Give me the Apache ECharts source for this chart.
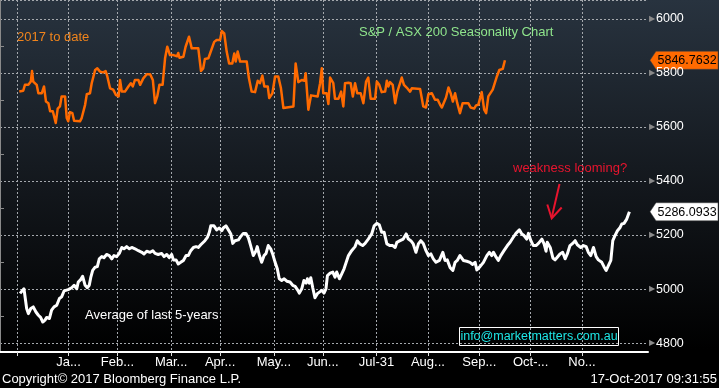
<!DOCTYPE html>
<html><head><meta charset="utf-8">
<script src="https://cdn.jsdelivr.net/npm/echarts@6/dist/echarts.min.js"></script>
<style>html,body{margin:0;padding:0;background:#000;}#c{width:719px;height:388px;}</style>
</head><body><div id="c"></div>
<script>
// Trading-day position (day 0 = left edge of the plot) and value
const asxDay = [7.9,9.5,10.2,11.6,12.6,13.1,13.6,14.3,15.0,15.7,17.1,18.0,18.8,19.8,20.5,21.6,22.8,23.6,24.5,25.2,26.6,27.3,27.9,28.6,29.6,30.3,32.7,33.4,34.8,35.5,36.8,37.5,38.9,39.8,40.9,42.2,43.2,43.9,45.0,46.3,47.4,48.5,49.1,49.8,51.1,52.5,53.5,54.3,55.2,56.6,57.3,58.6,60.0,61.4,62.5,63.4,64.3,65.2,66.5,67.5,68.4,69.5,70.9,71.6,72.4,72.9,73.4,75.0,75.9,77.3,78.4,81.1,82.2,83.1,83.8,85.2,85.9,86.6,87.6,88.6,90.0,90.7,91.7,92.7,93.7,95.0,95.8,96.4,97.2,98.2,100.9,101.8,102.9,104.3,105.4,106.3,107.3,108.1,109.5,110.1,111.4,112.5,113.8,114.9,115.9,120.0,120.9,122.0,123.4,124.5,125.0,126.1,127.2,129.9,130.9,131.6,132.2,133.6,134.3,135.0,136.3,137.0,138.4,139.5,140.4,141.1,142.5,143.4,144.3,145.2,146.1,147.5,148.6,149.7,150.6,151.6,153.4,154.1,155.1,156.1,157.5,158.2,158.8,159.5,160.6,161.6,162.5,163.6,164.3,165.2,166.3,167.7,168.4,171.8,173.1,174.2,175.2,176.6,177.9,179.0,180.0,180.7,182.4,183.4,184.3,185.2,186.1,187.0,188.1,189.2,191.5,192.5,193.9,194.7,195.6,197.0,198.0,198.8,199.7,200.4,201.5,202.0,203.2,204.2,205.6,206.5];
const asxValue = [5731,5734,5756,5756,5768,5807,5768,5771,5756,5725,5725,5750,5694,5688,5658,5658,5615,5668,5676,5713,5713,5633,5621,5655,5651,5623,5621,5633,5682,5721,5725,5762,5811,5817,5805,5802,5807,5787,5743,5738,5719,5713,5774,5731,5731,5750,5762,5750,5774,5774,5756,5780,5795,5795,5774,5688,5713,5756,5756,5854,5897,5866,5866,5872,5862,5874,5856,5860,5897,5934,5891,5891,5807,5817,5852,5854,5872,5872,5915,5922,5922,5955,5946,5879,5835,5835,5872,5842,5879,5842,5842,5780,5731,5729,5771,5762,5790,5750,5750,5707,5725,5787,5787,5743,5670,5676,5835,5766,5774,5771,5799,5664,5717,5713,5762,5817,5725,5725,5685,5783,5762,5704,5704,5731,5676,5762,5764,5762,5713,5762,5725,5725,5688,5768,5783,5704,5704,5768,5756,5729,5731,5771,5750,5766,5756,5688,5731,5762,5783,5756,5746,5731,5743,5741,5676,5672,5721,5725,5701,5701,5682,5672,5709,5746,5725,5694,5725,5688,5651,5688,5688,5672,5668,5680,5682,5729,5664,5651,5713,5709,5738,5738,5787,5811,5815,5846.7632];

const avgDay = [8.2,9.8,10.9,11.6,12.6,13.6,14.7,15.7,16.6,17.5,18.4,19.1,20.2,21.1,22.1,23.2,24.3,25.2,26.2,27.0,27.9,29.3,30.3,31.4,32.0,33.0,33.8,34.8,35.7,36.5,37.1,37.9,38.9,39.8,40.6,41.6,42.5,43.6,44.7,45.7,46.6,47.7,48.8,49.8,50.7,51.8,52.9,53.9,55.2,56.6,58.0,58.9,60.0,61.4,62.5,63.4,64.7,66.1,67.1,68.2,69.2,70.2,70.9,72.0,72.9,73.9,75.0,76.1,77.0,78.0,79.1,80.2,81.1,82.1,82.9,83.8,84.8,85.6,86.2,87.5,88.6,89.7,90.7,91.3,92.4,93.4,94.4,95.2,96.1,97.5,98.4,99.5,100.6,101.6,102.5,103.6,104.7,105.2,106.1,107.0,108.0,108.8,109.7,110.7,111.5,112.5,113.4,114.2,115.2,116.2,117.3,118.6,119.7,120.7,121.6,122.4,123.4,124.3,125.2,125.7,126.5,127.1,127.9,128.8,129.8,130.6,131.6,132.5,133.3,133.9,135.0,136.1,137.0,137.7,138.8,139.8,140.7,141.5,142.5,143.8,145.2,146.1,147.2,148.3,149.3,150.6,152.0,153.0,154.1,155.1,156.1,157.1,158.2,159.5,160.6,161.6,162.3,163.6,164.9,166.1,167.0,168.0,169.0,170.1,171.1,172.1,173.1,174.2,175.2,176.2,177.2,178.3,179.7,181.1,182.0,182.9,184.1,185.2,186.1,187.0,188.1,189.5,190.9,192.2,193.3,194.3,195.0,196.3,197.7,199.1,200.1,201.1,201.8,202.9,203.8,204.8,206.1,207.5,208.6,209.7,211.0,212.4,213.4,214.3,215.4,216.1,217.1,218.1,219.2,220.2,221.6,222.5,223.3,223.8,225.0,226.1,227.0,227.9,229.0,230.1,231.1,232.0,233.1,234.2,235.2,236.1,237.5,238.6,239.7,240.6,241.6,242.7,243.8,244.7,246.1,247.0,247.9,248.8,249.8,250.6,251.5,252.5,253.6,254.3,255.2,256.3,257.4];
const avgValue = [4984,5001,4928,4909,4928,4934,4915,4903,4895,4878,4885,4895,4891,4922,4934,4940,4965,4971,4993,4989,4998,5005,5014,5001,5026,5035,5047,5014,5005,5014,5042,5069,5081,5083,5112,5120,5116,5128,5124,5112,5124,5120,5132,5154,5149,5157,5149,5154,5149,5142,5136,5130,5140,5136,5142,5132,5128,5132,5120,5128,5116,5128,5108,5108,5093,5099,5106,5124,5124,5142,5154,5157,5154,5164,5161,5179,5191,5210,5234,5234,5219,5226,5216,5226,5234,5219,5204,5169,5179,5182,5194,5206,5206,5189,5161,5124,5142,5157,5124,5099,5124,5132,5161,5149,5130,5099,5075,5038,5032,5038,5029,5026,5014,5010,4998,4985,5001,5032,5022,5038,5022,5042,5005,4968,4983,4977,4995,4985,5001,5050,5059,5063,5044,5063,5038,5057,5075,5081,5124,5142,5157,5179,5167,5161,5169,5185,5204,5234,5243,5238,5210,5210,5167,5161,5161,5154,5173,5179,5185,5204,5185,5179,5167,5136,5167,5179,5169,5142,5124,5130,5112,5099,5106,5136,5106,5108,5079,5069,5099,5106,5124,5106,5103,5099,5091,5099,5071,5083,5099,5124,5136,5124,5136,5118,5106,5124,5142,5161,5173,5189,5206,5219,5204,5198,5185,5206,5179,5161,5161,5169,5185,5167,5140,5173,5154,5115,5108,5118,5130,5136,5112,5130,5161,5169,5179,5164,5154,5161,5157,5136,5124,5154,5120,5108,5099,5083,5069,5087,5106,5179,5198,5216,5228,5241,5243,5259,5286.0933];

const tickIndex = [7,28,48,70,90,112,132,154,175,196,217,238];
const tickLabel = ['', 'Ja...', 'Feb...', 'Mar...', 'Apr...', 'May...', 'Jun...', 'Jul-31', 'Aug...', 'Sep...', 'Oct-...', 'No...'];
const dayCount = 266;
const yMin = 4767, yMax = 6070;

const categories = Array.from({length: dayCount}, (_, i) => {
  const k = tickIndex.indexOf(i);
  return k >= 0 ? tickLabel[k] : '';
});
const isTick = (i) => tickIndex.indexOf(i) >= 0;
const zip = (a, b) => a.map((d, i) => [d, b[i]]);

const FONT = '"Liberation Sans", Arial, sans-serif';
const chart = echarts.init(document.getElementById('c'), null, {renderer: 'canvas'});
const grid = {left: 0, right: 71, top: -2, bottom: 36, containLabel: false};
const dash = {color: '#a4a8ad', type: [2, 2], width: 1};

chart.setOption({
  animation: false,
  backgroundColor: {type: 'linear', x: 0, y: 0, x2: 0, y2: 1, colorStops: [
    {offset: 0, color: '#28333f'}, {offset: 0.5, color: '#12161b'}, {offset: 0.9, color: '#000000'}, {offset: 1, color: '#000000'}]},
  textStyle: {fontFamily: FONT},
  grid: grid,
  xAxis: [{
    type: 'category', data: categories, boundaryGap: false,
    axisLine: {lineStyle: {color: '#ffffff', width: 2}},
    axisTick: {show: true, interval: (i) => isTick(i), length: 4, lineStyle: {color: '#dddddd'}},
    axisLabel: {interval: (i) => isTick(i), color: '#ffffff', fontSize: 13, margin: 4, fontFamily: FONT},
    splitLine: {show: true, interval: (i) => isTick(i), lineStyle: dash}
  }, {
    type: 'value', min: 0, max: dayCount - 1, show: false
  }],
  yAxis: {
    type: 'value', position: 'right', min: yMin, max: yMax, splitNumber: 6,
    axisLine: {show: true, lineStyle: {color: '#8a8a8a', width: 1}},
    axisTick: {show: false},
    minorTick: {show: true, splitNumber: 2, length: 4, lineStyle: {color: '#8a8a8a'}},
    axisLabel: {showMinLabel: false, showMaxLabel: false, margin: 1,
      formatter: (v) => '{t|\u25B6}{v|' + v + '}',
      rich: {t: {color: '#8a8a8a', fontSize: 8, padding: [0, 1, 0, 0]},
             v: {color: '#ffffff', fontSize: 12.5, fontFamily: FONT}}},
    splitLine: {show: true, lineStyle: dash}
  },
  series: [{
    type: 'line', xAxisIndex: 1, yAxisIndex: 0, data: zip(avgDay, avgValue),
    symbol: 'none', lineStyle: {color: '#ffffff', width: 3, join: 'round'}, z: 3
  }, {
    type: 'line', xAxisIndex: 1, yAxisIndex: 0, data: zip(asxDay, asxValue),
    symbol: 'none', lineStyle: {color: '#ff6a00', width: 2.5, join: 'round'}, z: 4
  }]
});

const lastAsx = asxValue[asxValue.length - 1];
const lastAvg = avgValue[avgValue.length - 1];
const yA = chart.convertToPixel({yAxisIndex: 0}, lastAsx);
const yB = chart.convertToPixel({yAxisIndex: 0}, lastAvg);

function tag(y, fill, text) {
  return {type: 'group', x: 650, y: y, z: 100, children: [
    {type: 'polygon', shape: {points: [[0, 0], [6, -9], [68, -9], [68, 9], [6, 9]]},
     style: {fill: fill, stroke: '#444', lineWidth: 0.5}},
    {type: 'text', x: 7.5, y: 0.5, style: {text: text, fill: '#000', font: '12.5px ' + FONT, verticalAlign: 'middle', align: 'left'}}
  ]};
}
function label(x, y, text, color, size, align) {
  return {type: 'text', x: x, y: y, z: 100, style: {text: text, fill: color, font: size + 'px ' + FONT, verticalAlign: 'middle', align: align || 'left'}};
}

chart.setOption({graphic: [
  tag(yA, '#ff6a00', lastAsx.toFixed(4)),
  tag(yB, '#ffffff', lastAvg.toFixed(4)),
  label(17, 37, '2017 to date', '#f0841c', 13),
  label(359, 32.5, 'S&P / ASX 200 Seasonality Chart', '#8fe58c', 13),
  label(513, 168.5, 'weakness looming?', '#e8142e', 13),
  label(85, 315, 'Average of last 5-years', '#ffffff', 13),
  {type: 'rect', z: 100, shape: {x: 459.5, y: 327.5, width: 159, height: 18}, style: {fill: 'none', stroke: '#ffffff', lineWidth: 1}},
  label(539, 336.5, 'info@marketmatters.com.au', '#1ee6e6', 12.5, 'center'),
  label(2, 379, 'Copyright\u00A9 2017 Bloomberg Finance L.P.', '#ffffff', 13),
  label(717, 379, '17-Oct-2017 09:31:55', '#ffffff', 13, 'right'),
  {type: 'line', z: 100, shape: {x1: 559.5, y1: 184, x2: 551.7, y2: 217.5}, style: {stroke: '#e8142e', lineWidth: 2}},
  {type: 'polyline', z: 100, shape: {points: [[547.3, 204.5], [551.7, 218.3], [561.7, 207.5]]}, style: {stroke: '#e8142e', lineWidth: 2, fill: 'none'}}
]});
</script>
</body></html>
